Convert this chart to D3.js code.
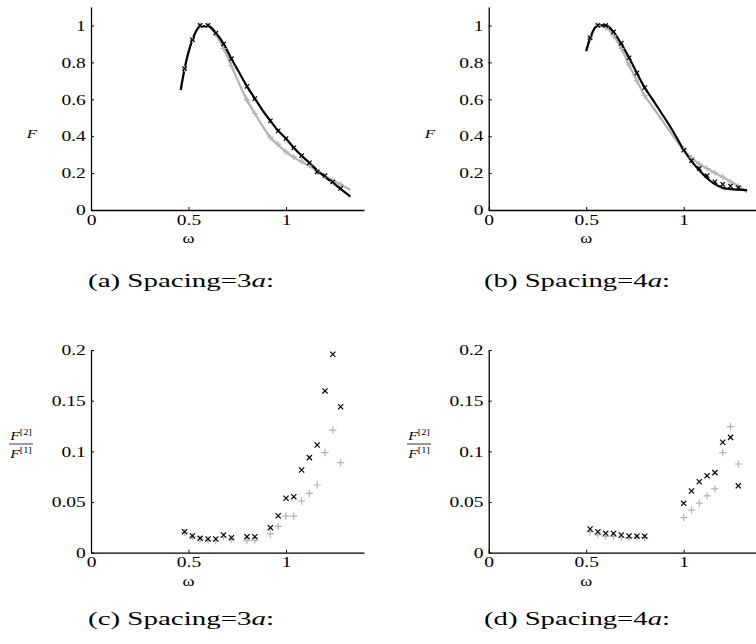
<!DOCTYPE html>
<html>
<head>
<meta charset="utf-8">
<script src="https://cdn.jsdelivr.net/npm/d3@7"></script>
<style>
  body { margin: 0; background: #fff; }
  svg { display: block; }
  text { font-family: "Liberation Serif", "DejaVu Serif", serif; fill: #000; }
</style>
</head>
<body>
<div id="chart"></div>
<script>
// data
const omegaLineA = [0.46, 0.48, 0.52, 0.56, 0.60, 0.64, 0.68, 0.72, 0.76, 0.80, 0.84, 0.88, 0.92, 0.96, 1.00, 1.04, 1.08, 1.12, 1.16, 1.20, 1.24, 1.28, 1.33];
const blackLineA = [0.65, 0.766, 0.922, 0.995, 0.998, 0.96, 0.90, 0.82, 0.745, 0.67, 0.604, 0.54, 0.483, 0.429, 0.387, 0.337, 0.294, 0.256, 0.215, 0.18, 0.148, 0.115, 0.073];
const grayLineA  = [0.65, 0.766, 0.922, 0.995, 0.995, 0.952, 0.875, 0.782, 0.685, 0.595, 0.523, 0.455, 0.393, 0.353, 0.315, 0.285, 0.26, 0.238, 0.21, 0.183, 0.16, 0.138, 0.108];
const omegaMarkA = [0.48, 0.52, 0.56, 0.60, 0.64, 0.68, 0.72, 0.80, 0.84, 0.92, 0.96, 1.00, 1.04, 1.08, 1.12, 1.16, 1.20, 1.24, 1.28];
const blackMarkA = [0.766, 0.922, 1.0, 1.0, 0.958, 0.90, 0.82, 0.67, 0.604, 0.483, 0.429, 0.387, 0.337, 0.294, 0.256, 0.207, 0.186, 0.153, 0.117];
const grayMarkA  = [0.766, 0.922, 1.0, 1.0, 0.952, 0.875, 0.782, 0.595, 0.523, 0.393, 0.357, 0.315, 0.288, 0.265, 0.243, 0.205, 0.18, 0.157, 0.139];

const omegaLineB = [0.50, 0.52, 0.56, 0.60, 0.64, 0.68, 0.72, 0.76, 0.80, 0.84, 0.88, 0.92, 0.96, 1.00, 1.04, 1.08, 1.12, 1.16, 1.20, 1.24, 1.28, 1.325];
const blackLineB = [0.86, 0.93, 1.0, 1.0, 0.965, 0.9, 0.825, 0.742, 0.663, 0.6, 0.535, 0.47, 0.4, 0.325, 0.265, 0.215, 0.172, 0.14, 0.12, 0.113, 0.11, 0.108];
const grayLineB  = [0.87, 0.935, 1.0, 0.99, 0.945, 0.875, 0.785, 0.7, 0.62, 0.56, 0.5, 0.44, 0.38, 0.325, 0.283, 0.25, 0.225, 0.2, 0.178, 0.155, 0.13, 0.095];
const omegaMarkB = [0.52, 0.56, 0.60, 0.64, 0.68, 0.72, 0.76, 0.80, 1.00, 1.04, 1.08, 1.12, 1.16, 1.20, 1.24, 1.28];
const blackMarkB = [0.933, 1.0, 1.0, 0.965, 0.904, 0.825, 0.742, 0.663, 0.324, 0.267, 0.225, 0.186, 0.153, 0.139, 0.13, 0.121];
const grayMarkB  = [0.935, 1.0, 0.99, 0.945, 0.875, 0.785, 0.70, 0.62, 0.33, 0.283, 0.249, 0.225, 0.202, 0.18, 0.153, 0.13];

const blackMarkC = [0.0207, 0.0165, 0.0142, 0.0135, 0.0135, 0.0175, 0.0148, 0.0158, 0.0158, 0.0247, 0.0365, 0.0537, 0.0553, 0.0816, 0.0938, 0.1063, 0.1596, 0.1958, 0.144];
const grayMarkC  = [0.020, 0.016, 0.0135, 0.0125, 0.0118, 0.0155, 0.0135, 0.012, 0.012, 0.0185, 0.026, 0.036, 0.036, 0.051, 0.0586, 0.0668, 0.0987, 0.121, 0.0888];

const blackMarkD = [0.0234, 0.0207, 0.0191, 0.019, 0.0175, 0.0165, 0.0163, 0.0163, 0.0487, 0.0609, 0.070, 0.076, 0.079, 0.109, 0.1138, 0.066];
const grayMarkD  = [0.0207, 0.0175, 0.016, 0.016, 0.015, 0.0148, 0.0155, 0.015, 0.0346, 0.042, 0.049, 0.056, 0.063, 0.0987, 0.1243, 0.0875];

const xTicks = [0, 0.5, 1];
const fTicks = [0, 0.2, 0.4, 0.6, 0.8, 1];
const ratioTicks = [0, 0.05, 0.1, 0.15, 0.2];
const captions = ["(a) Spacing=3", "(b) Spacing=4", "(c) Spacing=3", "(d) Spacing=4"];

const width = 756, height = 644;
const grayCol = "#b3b3b3";
const sx = 1.3; // the original figure is stretched sideways

const svg = d3.select("#chart").append("svg")
  .attr("width", width).attr("height", height);

function makePanel(left, top, bottom, yMax, yTicks) {
  const g = svg.append("g");
  const x = d3.scaleLinear().domain([0, 1.4]).range([left, left + 273]);
  const y = d3.scaleLinear().domain([0, yMax]).range([bottom, top]);

  const fmt = d3.format("~g");
  g.append("g").attr("transform", "translate(0," + bottom + ")")
    .call(d3.axisBottom(x).tickValues(xTicks).tickFormat(fmt).tickSizeInner(-3).tickSizeOuter(0).tickPadding(12));
  g.append("g").attr("transform", "translate(" + left + ",0)")
    .call(d3.axisLeft(y).tickValues(yTicks).tickFormat(fmt).tickSizeInner(-3).tickSizeOuter(0).tickPadding(4));

  g.selectAll(".domain").attr("stroke", "#000").attr("stroke-width", 1.3);
  g.selectAll(".tick line").attr("stroke", "#000");
  g.selectAll(".tick text")
    .attr("font-family", "Liberation Serif, serif")
    .attr("font-size", 15)
    .attr("fill", "#000")
    .attr("transform", "scale(" + sx + ",1)");
  // x tick labels: put them just under the axis
  g.selectAll(".tick text").filter(function() { return d3.select(this).attr("y") != null && +d3.select(this).attr("y") > 0; })
    .attr("y", 4);

  // omega label
  g.append("text")
    .attr("transform", "translate(" + x(0.5) + "," + (bottom + 33) + ") scale(" + sx + ",1)")
    .attr("text-anchor", "middle")
    .attr("font-size", 14)
    .text("ω");
  return { g: g, x: x, y: y };
}

function drawLine(p, xs, ys, col) {
  const line = d3.line()
    .x(function(d) { return p.x(d[0]); })
    .y(function(d) { return p.y(d[1]); })
    .curve(d3.curveMonotoneX);
  p.g.append("path")
    .datum(xs.map(function(v, i) { return [v, ys[i]]; }))
    .attr("d", line)
    .attr("fill", "none")
    .attr("stroke", col)
    .attr("stroke-width", 2.2);
}

function drawMarks(p, xs, ys, col, kind, s) {
  p.g.append("g").selectAll("path")
    .data(xs.map(function(v, i) { return [v, ys[i]]; }))
    .enter().append("path")
    .attr("d", function(d) {
      const cx = p.x(d[0]), cy = p.y(d[1]);
      if (kind === "x") {
        return "M" + (cx - s) + "," + (cy - s) + "L" + (cx + s) + "," + (cy + s) +
               "M" + (cx - s) + "," + (cy + s) + "L" + (cx + s) + "," + (cy - s);
      }
      return "M" + (cx - s * 1.4) + "," + cy + "L" + (cx + s * 1.4) + "," + cy +
             "M" + cx + "," + (cy - s * 1.4) + "L" + cx + "," + (cy + s * 1.4);
    })
    .attr("stroke", col)
    .attr("stroke-width", 1.2)
    .attr("fill", "none");
}

// top panels
const pA = makePanel(91, 7, 210, 1.1, fTicks);
drawLine(pA, omegaLineA, grayLineA, grayCol);
drawLine(pA, omegaLineA, blackLineA, "#000");
drawMarks(pA, omegaMarkA, grayMarkA, grayCol, "+", 2.2);
drawMarks(pA, omegaMarkA, blackMarkA, "#000", "x", 2.2);

const pB = makePanel(488.7, 7, 210, 1.1, fTicks);
drawLine(pB, omegaLineB, grayLineB, grayCol);
drawLine(pB, omegaLineB, blackLineB, "#000");
drawMarks(pB, omegaMarkB, grayMarkB, grayCol, "+", 2.2);
drawMarks(pB, omegaMarkB, blackMarkB, "#000", "x", 2.2);

// bottom panels
const pC = makePanel(91, 350, 552.7, 0.2, ratioTicks);
drawMarks(pC, omegaMarkA, grayMarkC, grayCol, "+", 2.6);
drawMarks(pC, omegaMarkA, blackMarkC, "#000", "x", 2.6);

const pD = makePanel(488.7, 350, 552.7, 0.2, ratioTicks);
drawMarks(pD, omegaMarkB, grayMarkD, grayCol, "+", 2.6);
drawMarks(pD, omegaMarkB, blackMarkD, "#000", "x", 2.6);

// y labels
[[32, 138], [430, 138]].forEach(function(p) {
  svg.append("text")
    .attr("transform", "translate(" + p[0] + "," + p[1] + ") scale(" + sx + ",1)")
    .attr("text-anchor", "middle")
    .attr("font-size", 13)
    .attr("font-style", "italic")
    .text("F");
});

[[21, 444], [419, 444]].forEach(function(p) {
  const fg = svg.append("g").attr("transform", "translate(" + p[0] + "," + p[1] + ")");
  fg.append("line").attr("x1", -12).attr("x2", 12).attr("y1", 0).attr("y2", 0)
    .attr("stroke", "#000").attr("stroke-width", 0.8);
  [["2", -4], ["1", 14]].forEach(function(t) {
    const tx = fg.append("text")
      .attr("transform", "translate(0," + t[1] + ") scale(" + sx + ",1)")
      .attr("text-anchor", "middle")
      .attr("font-size", 12);
    tx.append("tspan").attr("font-style", "italic").text("F");
    tx.append("tspan").attr("font-size", 8).attr("dy", -5).text("[" + t[0] + "]");
  });
});

// captions
[[88, 287], [484, 287], [88, 625], [484, 625]].forEach(function(p, i) {
  const t = svg.append("text")
    .attr("x", p[0]).attr("y", p[1])
    .attr("font-size", 18)
    .attr("textLength", 186)
    .attr("lengthAdjust", "spacingAndGlyphs");
  t.append("tspan").text(captions[i]);
  t.append("tspan").attr("font-style", "italic").text("a");
  t.append("tspan").text(":");
});
</script>
</body>
</html>
